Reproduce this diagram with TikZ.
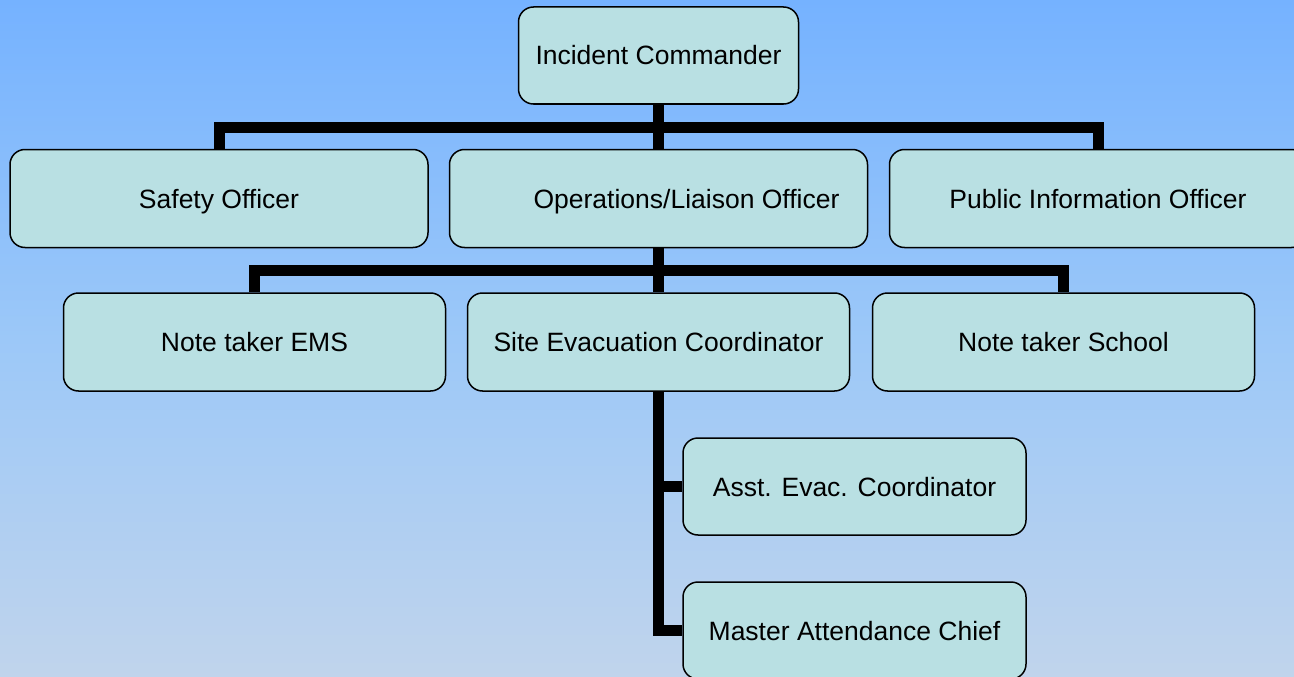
\documentclass[tikz,border=0pt]{standalone}
\usepackage{fontspec}
\setmainfont{Liberation Sans}
\usetikzlibrary{backgrounds}
\definecolor{bgtop}{RGB}{117,178,255}
\definecolor{bgmid}{RGB}{156,200,248}
\definecolor{bgbot}{RGB}{192,212,236}
\definecolor{boxfill}{RGB}{185,224,227}
\tikzset{
  orgbox/.style={draw=black, line width=1.5pt, fill=boxfill, rounded corners=15pt,
    inner sep=0pt, font=\fontsize{26.5}{30}\selectfont, text=black,
    text height=19pt, text depth=0pt},
  conn/.style={draw=black, line width=11pt, line join=miter}
}
\begin{document}
\begin{tikzpicture}[x=1pt, y=-1pt]
  \useasboundingbox (0,0) rectangle (1294,677);
  \clip (0,0) rectangle (1294,677);

  % bus levels
  \coordinate (bus1) at (0,127.5);
  \coordinate (bus2) at (0,270);

  % boxes
  \node[orgbox, minimum width=280pt, minimum height=97pt] (ic) at (658.5,55.5) {Incident Commander};
  \node[orgbox, minimum width=418pt, minimum height=98pt] (so) at (219,198.5) {Safety Officer};
  \node[orgbox, minimum width=418pt, minimum height=98pt] (ops) at (658.5,198.5) {\hspace*{56pt}Operations/Liaison Officer};
  \node[orgbox, minimum width=417pt, minimum height=98pt] (pio) at (1098,198.5) {Public Information Officer};
  \node[orgbox, minimum width=382pt, minimum height=98pt] (ems) at (254.5,342) {Note taker EMS};
  \node[orgbox, minimum width=382pt, minimum height=98pt] (site) at (658.5,342) {Site Evacuation Coordinator};
  \node[orgbox, minimum width=382pt, minimum height=98pt] (sch) at (1063.5,342) {Note taker School};
  \node[orgbox, minimum width=343pt, minimum height=97pt] (asst) at (854.5,486.5) {Asst. Evac. Coordinator};
  \node[orgbox, minimum width=343pt, minimum height=97pt] (mac) at (854.5,630.5) {Master Attendance Chief};

  \begin{scope}[on background layer]
    % background gradient
    \shade[top color=bgtop, bottom color=bgbot, middle color=bgmid] (0,0) rectangle (1294,677);
    % connectors
    \draw[conn] (ic.south) -- (ops.north);
    \draw[conn] (so.north) |- (pio.north |- bus1) -- (pio.north);
    \draw[conn] (ops.south) -- (site.north);
    \draw[conn] (ems.north) |- (sch.north |- bus2) -- (sch.north);
    \draw[conn] (site.south) |- (mac.west);
    \draw[conn] (site.south |- asst.west) -- (asst.west);
  \end{scope}
\end{tikzpicture}
\end{document}
